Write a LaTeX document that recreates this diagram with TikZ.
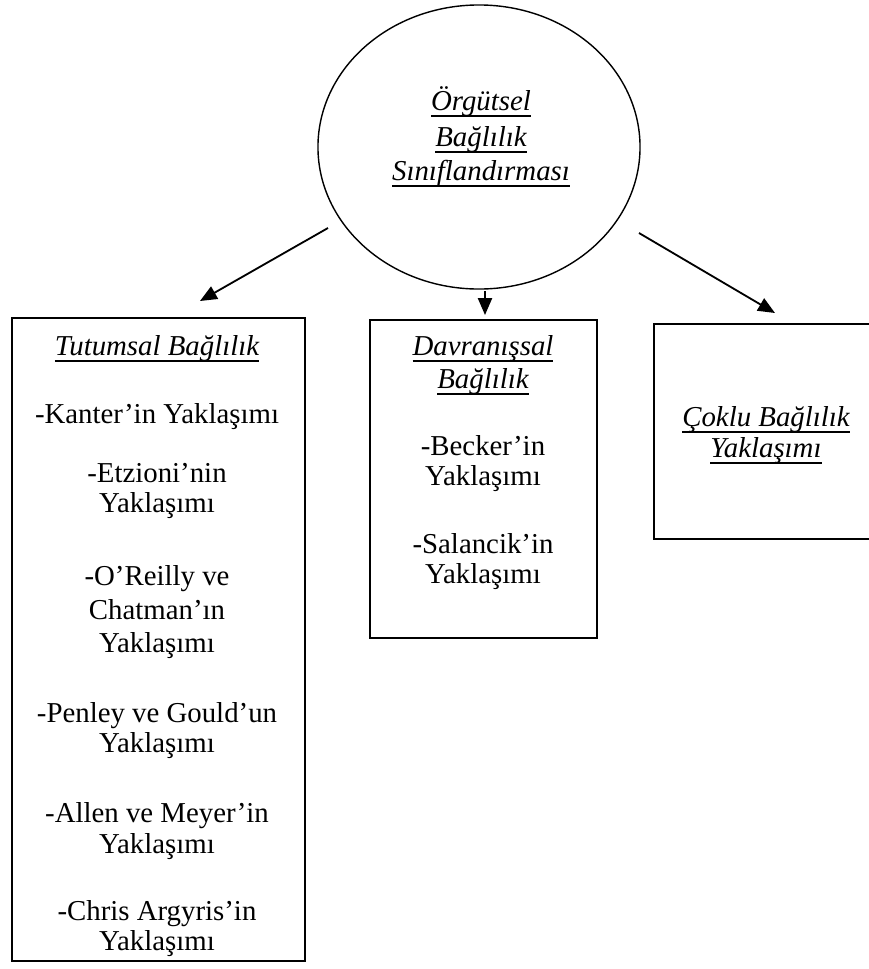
\documentclass[tikz,border=0pt]{standalone}
\usepackage{fontspec}
\setmainfont{Liberation Serif}
\usetikzlibrary{shapes.geometric,arrows.meta,positioning}

\newsavebox{\ulbox}
\newcommand{\uln}[1]{\sbox{\ulbox}{#1}\rlap{\rule[-5pt]{\wd\ulbox}{1.1pt}}\usebox{\ulbox}}

\tikzset{
  box/.style={draw, line width=1.4pt, inner sep=0pt},
  circ/.style={ellipse, draw, line width=1pt, inner sep=0pt,
    minimum width=8.05cm, minimum height=7.1cm},
  txt/.style={inner sep=0pt, anchor=base, font=\fontsize{20.5}{24}\selectfont},
  head/.style={txt, font=\fontsize{20.5}{24}\selectfont\itshape},
  arr/.style={line width=1.3pt, -{Triangle[length=12pt,width=10pt]}},
}

\begin{document}
\begin{tikzpicture}[x=0.025cm,y=-0.025cm]
  \useasboundingbox (0,0) rectangle (869,969);

  % top ellipse
  \node[circ] (org) at (479,147) {};
  \node[head] (org1) at (481,110) {\uln{Örgütsel}};
  \node[head] (org2) at (481,146) {\uln{Bağlılık}};
  \node[head] (org3) at (481,180) {\uln{Sınıflandırması}};

  % the three boxes
  \node[box, minimum width=7.33cm, minimum height=16.07cm] (tut) at (158.5,639.5) {};
  \node[box, minimum width=5.68cm, minimum height=7.95cm] (dav) at (483.5,479) {};
  \node[box, minimum width=5.6cm, minimum height=5.38cm] (cok) at (766,431.5) {};

  % left box
  \node[head] (tutH) at (157,355) {\uln{Tutumsal Bağlılık}};
  \foreach \yy/\tx [count=\i] in {423/-Kanter’in Yaklaşımı, 482/-Etzioni’nin,
      512/Yaklaşımı, 585/-O’Reilly ve, 619/Chatman’ın, 652/Yaklaşımı,
      722/-Penley ve Gould’un, 752/Yaklaşımı, 822/-Allen ve Meyer’in,
      853/Yaklaşımı, 920/-Chris Argyris’in, 950/Yaklaşımı}
    \node[txt] (tut\i) at (157,\yy) {\tx};

  % middle box
  \node[head] (davH1) at (483,355) {\uln{Davranışsal}};
  \node[head] (davH2) at (483,388) {\uln{Bağlılık}};
  \foreach \yy/\tx [count=\i] in {455/-Becker’in, 485/Yaklaşımı,
      553/-Salancik’in, 583/Yaklaşımı}
    \node[txt] (dav\i) at (483,\yy) {\tx};

  % right box
  \node[head] (cokH1) at (766,426) {\uln{Çoklu Bağlılık}};
  \node[head] (cokH2) at (766,457) {\uln{Yaklaşımı}};

  % arrows
  \coordinate (a1) at (328,228);
  \coordinate (b1) at (200,301);
  \coordinate (a2) at (485,291);
  \coordinate (b2) at (485,315);
  \coordinate (a3) at (639,233);
  \coordinate (b3) at (775,313);
  \draw[arr] (a1) -- (b1);
  \draw[arr] (a2) -- (b2);
  \draw[arr] (a3) -- (b3);
\end{tikzpicture}
\end{document}
